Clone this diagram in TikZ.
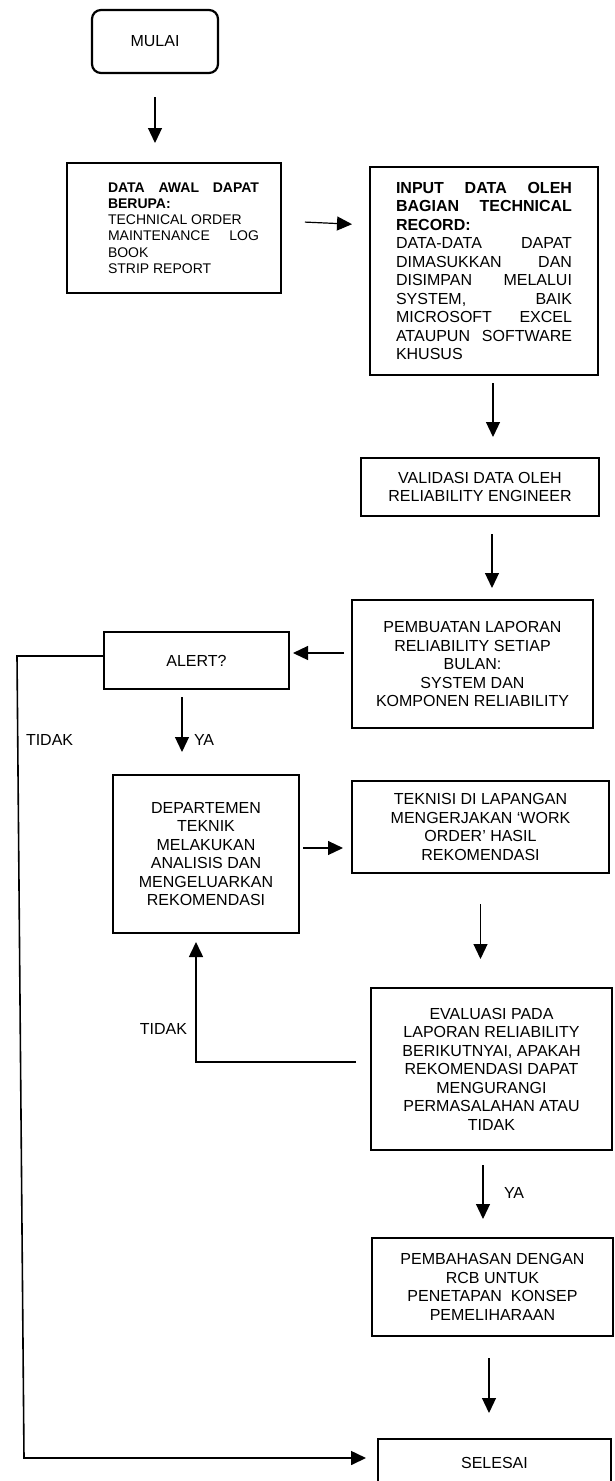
\documentclass[tikz,border=0pt]{standalone}
\usepackage{fontspec}
\setmainfont{Liberation Sans}
\usetikzlibrary{arrows.meta}

\begin{document}
\begin{tikzpicture}[x=1pt,y=1pt]
\tikzstyle{every node}+=[inner sep=0pt, outer sep=0pt, font=\fontsize{16}{18.5}\selectfont]
\tikzstyle{kotak}=[draw, line width=2.2pt]
\tikzstyle{tengah}=[kotak, align=center]
\tikzstyle{panah}=[line width=1.2pt, -{Triangle[length=15pt,width=14pt]}]
\tikzstyle{garis}=[line width=1.6pt, -{Triangle[length=15pt,width=14pt]}]

\useasboundingbox (0,0) rectangle (614,-1481);

\node[tengah, rounded corners=9, minimum width=126, minimum height=63] (mulai) at (155,-41.5) {MULAI};

\node[kotak, minimum width=214, minimum height=130] (data) at (174,-228) {\hspace*{19pt}\parbox{151pt}{\fontsize{14}{16.3}\selectfont
{\bfseries DATA AWAL DAPAT\linebreak BERUPA:}\\TECHNICAL ORDER\\MAINTENANCE LOG\linebreak BOOK\\STRIP REPORT}};

\node[kotak, minimum width=228, minimum height=208] (input) at (484,-271) {\parbox{176pt}{{\bfseries INPUT DATA OLEH\linebreak BAGIAN TECHNICAL\linebreak RECORD:}\\DATA-DATA DAPAT\linebreak DIMASUKKAN DAN\linebreak DISIMPAN MELALUI\linebreak SYSTEM, BAIK\linebreak MICROSOFT EXCEL\linebreak ATAUPUN SOFTWARE\linebreak KHUSUS}};

\node[tengah, minimum width=238, minimum height=58] (validasi) at (480,-487) {VALIDASI DATA OLEH\\RELIABILITY ENGINEER};
\node[tengah, minimum width=241, minimum height=128] (lapor) at (472.5,-664) {PEMBUATAN LAPORAN\\RELIABILITY SETIAP\\BULAN:\\SYSTEM DAN\\KOMPONEN RELIABILITY};
\node[tengah, minimum width=185, minimum height=57] (alert) at (196.5,-660.5) {ALERT?};

\node[tengah, minimum width=186, minimum height=158] (dept) at (206,-854) {DEPARTEMEN\\TEKNIK\\MELAKUKAN\\ANALISIS DAN\\MENGELUARKAN\\REKOMENDASI};
\node[tengah, minimum width=257, minimum height=92] (tek) at (480.5,-827) {TEKNISI DI LAPANGAN\\MENGERJAKAN ‘WORK\\ORDER’ HASIL\\REKOMENDASI};
\node[tengah, minimum width=241, minimum height=162] (eval) at (491.5,-1069) {EVALUASI PADA\\LAPORAN RELIABILITY\\BERIKUTNYAI, APAKAH\\REKOMENDASI DAPAT\\MENGURANGI\\PERMASALAHAN ATAU\\TIDAK};
\node[tengah, minimum width=241, minimum height=98] (bahas) at (492.5,-1287) {PEMBAHASAN DENGAN\\RCB UNTUK\\PENETAPAN\ \ KONSEP\\PEMELIHARAAN};
\node[tengah, minimum width=233, minimum height=48] (selesai) at (494.5,-1463) {SELESAI};

\node[anchor=west] (tidak1) at (26,-740) {TIDAK};
\node[anchor=west] (ya1) at (194,-740) {YA};
\node[anchor=east] (tidak2) at (187,-1029) {TIDAK};
\node[anchor=west] (ya2) at (504,-1193) {YA};

\draw[panah, shorten <=24, shorten >=20] (mulai.south) -- (mulai.south |- data.north);
\draw[panah, shorten <=24, shorten >=18] ([yshift=7]data.east) -- ([yshift=46]input.west);
\draw[panah, shorten <=8, shorten >=21] ([xshift=9]input.south) -- ([xshift=9]input.south |- validasi.north);
\draw[panah, shorten <=18, shorten >=12] ([xshift=12]validasi.south) -- ([xshift=12]validasi.south |- lapor.north);
\draw[panah, shorten <=8, shorten >=4] ([yshift=11]lapor.west) -- ([yshift=11]lapor.west -| alert.east);
\draw[panah, shorten <=8, shorten >=23] ([xshift=-14.5]alert.south) -- ([xshift=-14.5]alert.south |- dept.north);
\draw[panah, shorten <=4, shorten >=9] ([yshift=6]dept.east) -- ([yshift=6]dept.east -| tek.west);
\draw[panah, shorten <=31, shorten >=29] (tek.south) -- (tek.south |- eval.north);
\draw[garis, shorten <=15, shorten >=9] ([yshift=7]eval.west) -| ([xshift=-10]dept.south);
\draw[panah, shorten <=15, shorten >=19] ([xshift=-8.5]eval.south) -- ([xshift=-8.5]eval.south |- bahas.north);
\draw[panah, shorten <=22, shorten >=26] ([xshift=-3.5]bahas.south) -- ([xshift=-3.5]bahas.south |- selesai.north);

\coordinate (belok1) at (17,-656);
\coordinate (belok2) at (24,-1458);
\draw[garis, shorten >=12] ([yshift=4.5]alert.west) -- (belok1) -- (belok2) -- ([yshift=5]selesai.west);
\end{tikzpicture}
\end{document}
